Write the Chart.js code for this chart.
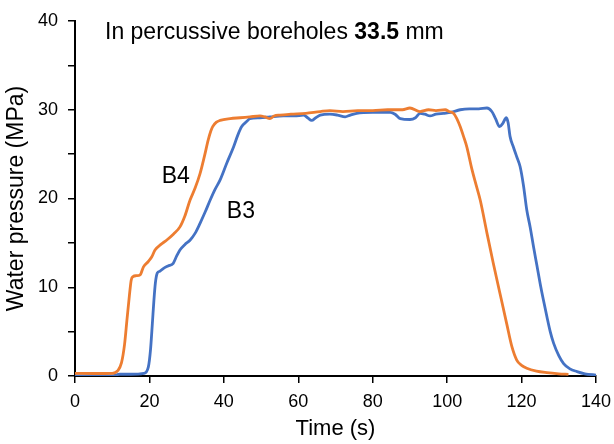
<!DOCTYPE html>
<html>
<head>
<meta charset="utf-8">
<script src="https://cdn.jsdelivr.net/npm/chart.js@4"></script>
<style>
  body { margin: 0; background: #fff; }
  canvas { display: block; }
</style>
</head>
<body>
<canvas id="chart" width="614" height="444"></canvas>
<script>
// B4 (orange) time / pressure
const b4Time = [0, 5, 10, 11.5, 12.5, 13.3, 14, 14.6, 15.1, 15.6, 16.5, 17.5, 18.4, 19.7, 20.6, 21.5, 23, 24.6, 26.5, 28.2, 29.5, 30.9, 32.3, 33.6, 34.8, 35.8, 36.5, 37.0, 38, 39, 41.7, 44.4, 47, 49.7, 51, 52.4, 53.5, 55.1, 58, 62, 65.9, 68.5, 72, 76, 80, 84, 88, 90, 92.7, 95, 97, 99.5, 100.5, 101.7, 102.6, 103.5, 104.4, 105.3, 106.6, 107.8, 108.9, 110.7, 112.4, 114.2, 116.0, 117.4, 118.7, 120, 121.4, 124, 126.8, 130, 132.6];
const b4Pressure = [0.3, 0.28, 0.3, 0.6, 1.5, 3.5, 6.5, 9, 10.8, 11.2, 11.3, 11.4, 12.3, 12.9, 13.4, 14.2, 14.8, 15.3, 16.0, 16.8, 18.0, 19.8, 21.2, 22.8, 24.8, 26.6, 27.6, 28.1, 28.6, 28.8, 29.0, 29.1, 29.2, 29.3, 29.2, 29.0, 29.3, 29.4, 29.5, 29.6, 29.8, 29.9, 29.8, 29.9, 29.9, 30.0, 30.0, 30.2, 29.8, 30.0, 29.9, 30.0, 29.8, 29.6, 29.0, 28.1, 27.0, 25.8, 23.4, 21.5, 19.8, 16.1, 12.7, 9.3, 5.9, 3.3, 1.8, 1.2, 0.87, 0.55, 0.38, 0.25, 0.18];

// B3 (blue) time / pressure
const b3Time = [0, 5, 10, 12, 15, 18.5, 19.7, 20.3, 20.8, 21.2, 21.6, 22.1, 22.8, 23.7, 25, 26.4, 27.3, 28.2, 29.5, 30.9, 32.3, 33.6, 35, 36.3, 37.6, 39, 40.8, 42.6, 43.8, 44.8, 46.2, 47, 49.7, 52.4, 56, 59, 61.4, 62.5, 63.6, 64.7, 65.9, 68.5, 70.5, 72.6, 74, 75.7, 80, 84.7, 86, 87.4, 90, 91.5, 92.7, 94, 95.4, 97, 99, 101, 103.5, 106, 108.5, 110.7, 112, 113, 114.1, 115, 115.9, 116.4, 116.9, 117.8, 118.7, 119.6, 120.5, 121.4, 122.3, 123.2, 124.1, 125, 125.9, 126.8, 127.7, 128.6, 130, 131.3, 133, 134.9, 137, 140.2];
const b3Pressure = [0.0, 0.0, 0.0, 0.2, 0.2, 0.3, 1.0, 3, 6, 8.5, 10.5, 11.6, 11.8, 12.1, 12.4, 12.7, 13.5, 14.2, 14.8, 15.3, 16.1, 17.2, 18.5, 19.8, 21.0, 22.1, 24.0, 25.8, 27.2, 28.1, 28.7, 29.0, 29.1, 29.2, 29.3, 29.3, 29.4, 29.1, 28.8, 29.1, 29.4, 29.5, 29.4, 29.2, 29.4, 29.6, 29.7, 29.7, 29.5, 29.0, 28.9, 29.1, 29.6, 29.5, 29.3, 29.5, 29.6, 29.7, 30.0, 30.1, 30.1, 30.2, 29.8, 29.0, 28.1, 28.5, 29.1, 28.5, 27.0, 25.8, 24.7, 23.6, 21.5, 18.7, 16.8, 14.6, 12.5, 10.4, 8.5, 6.7, 5.0, 3.7, 2.3, 1.4, 0.8, 0.5, 0.25, 0.1];

const xTicks = [0, 20, 40, 60, 80, 100, 120, 140];
const yTicks = [0, 10, 20, 30, 40];

const FONT = "'Liberation Sans', Arial, sans-serif";

const toPoints = (xs, ys) => xs.map((x, i) => ({ x: x, y: ys[i] }));

// text drawn inside the plot area: title and the two curve labels
const annotations = {
  id: 'annotations',
  afterDraw(chart) {
    const { ctx, scales: { x, y } } = chart;
    ctx.save();
    ctx.fillStyle = '#000';
    ctx.textBaseline = 'alphabetic';
    ctx.textAlign = 'left';
    const tx = 105, ty = 39;
    ctx.font = "23px " + FONT;
    const part1 = 'In percussive boreholes ';
    ctx.fillText(part1, tx, ty);
    let w = ctx.measureText(part1).width;
    ctx.font = "bold 23px " + FONT;
    ctx.fillText('33.5', tx + w, ty);
    w += ctx.measureText('33.5').width;
    ctx.font = "23px " + FONT;
    ctx.fillText(' mm', tx + w, ty);

    ctx.font = "23px " + FONT;
    ctx.fillText('B4', x.getPixelForValue(23.3), y.getPixelForValue(21.7));
    ctx.fillText('B3', x.getPixelForValue(40.8), y.getPixelForValue(17.8));
    ctx.restore();
  }
};

const chart = new Chart(document.getElementById('chart'), {
  type: 'line',
  data: {
    datasets: [
      {
        label: 'B4',
        data: toPoints(b4Time, b4Pressure),
        borderColor: '#ED7D31',
        borderWidth: 2.8,
        pointRadius: 0,
        cubicInterpolationMode: 'monotone'
      },
      {
        label: 'B3',
        data: toPoints(b3Time, b3Pressure),
        borderColor: '#4472C4',
        borderWidth: 2.8,
        pointRadius: 0,
        cubicInterpolationMode: 'monotone'
      }
    ]
  },
  options: {
    responsive: false,
    animation: false,
    layout: { padding: { top: 21, right: 18, left: 0, bottom: 0 } },
    plugins: {
      legend: { display: false },
      tooltip: { enabled: false }
    },
    scales: {
      x: {
        type: 'linear',
        min: 0,
        max: 140,
        afterFit: s => { s.height = 68; s.paddingLeft = 0; s.paddingRight = 0; },
        afterBuildTicks: s => { s.ticks = xTicks.map(v => ({ value: v })); },
        grid: { drawOnChartArea: false, tickLength: 7, color: '#000', lineWidth: 1.5 },
        border: { color: '#000', width: 2 },
        ticks: { color: '#000', font: { family: FONT, size: 18 }, padding: 8, maxRotation: 0 },
        title: { display: true, text: 'Time (s)', color: '#000', font: { family: FONT, size: 22 }, padding: { top: 0, bottom: 2 } }
      },
      y: {
        type: 'linear',
        min: 0,
        max: 40,
        afterFit: s => { s.width = 75; s.paddingTop = 0; s.paddingBottom = 0; },
        ticks: {
          stepSize: 5,
          autoSkip: false,
          color: '#000',
          font: { family: FONT, size: 18 },
          padding: 10,
          callback: v => (yTicks.includes(v) ? v : '')
        },
        grid: { drawOnChartArea: false, tickLength: 7, color: '#000', lineWidth: 1.5 },
        border: { color: '#000', width: 2 },
        title: { display: true, text: 'Water pressure (MPa)', color: '#000', font: { family: FONT, size: 23 }, padding: { top: 3, bottom: 0 } }
      }
    }
  },
  plugins: [annotations]
});
</script>
</body>
</html>
